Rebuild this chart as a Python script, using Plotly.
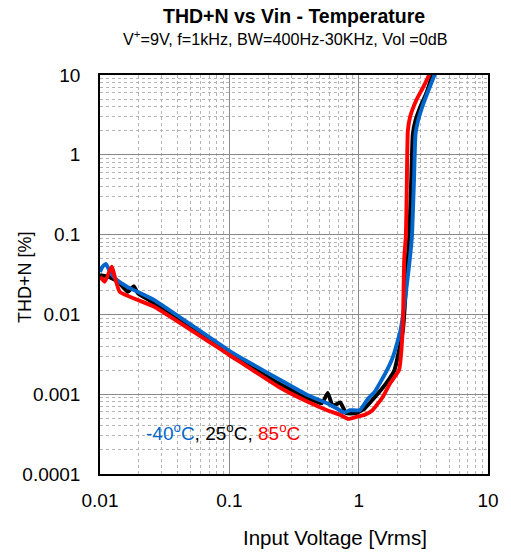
import plotly.graph_objects as go

# -40 C (blue)
x_m40 = [0.01, 0.0105, 0.0111, 0.0121, 0.0135, 0.0164, 0.0263, 0.1, 0.24, 0.40, 0.57, 0.68, 0.77, 0.86,
         1.02, 1.18, 1.33, 1.63, 1.85, 2.11, 2.4, 2.58, 2.68, 2.75, 2.9, 3.1, 3.45, 3.9, 4.0]
y_m40 = [0.034, 0.040, 0.043, 0.033, 0.027, 0.022, 0.0151, 0.0035, 0.00155, 0.00098, 0.00077, 0.00066,
         0.00059, 0.00063, 0.00063, 0.00088, 0.00107, 0.0019, 0.003, 0.0064, 0.03, 0.094, 0.5, 1.8, 2.8,
         4.0, 6.3, 10.5, 12]

# 25 C (black)
x_25 = [0.01, 0.0116, 0.0138, 0.0164, 0.0183, 0.0196, 0.0263, 0.1, 0.24, 0.40, 0.52, 0.577, 0.63, 0.72,
        0.80, 0.96, 1.11, 1.28, 1.63, 1.89, 2.2, 2.35, 2.46, 2.55, 2.62, 2.75, 3.0, 3.35, 3.75, 3.85]
y_25 = [0.031, 0.0297, 0.0257, 0.0192, 0.0225, 0.0185, 0.0138, 0.0033, 0.00137, 0.0009, 0.00077, 0.00104,
        0.00071, 0.00079, 0.00058, 0.00058, 0.00066, 0.00085, 0.00137, 0.0020, 0.0064, 0.03, 0.094, 0.5,
        1.8, 2.7, 4.0, 6.0, 10.5, 12]

# 85 C (red)
x_85 = [0.01, 0.0109, 0.0123, 0.0142, 0.0263, 0.1, 0.24, 0.40, 0.57, 0.72, 0.83, 0.96, 1.11, 1.28, 1.54,
        1.75, 2.05, 2.19, 2.25, 2.32, 2.36, 2.40, 2.5, 2.8, 3.15, 3.55, 3.65]
y_85 = [0.0297, 0.0257, 0.0396, 0.0192, 0.0125, 0.0031, 0.00124, 0.00081, 0.00063, 0.00055, 0.00049,
        0.00052, 0.00055, 0.00063, 0.00093, 0.00137, 0.002, 0.0064, 0.05, 0.1, 0.5, 2.0, 3.0, 4.9, 7.0,
        10.5, 12]

x_ticks = [0.01, 0.1, 1, 10]
x_labels = ["0.01", "0.1", "1", "10"]
y_ticks = [0.0001, 0.001, 0.01, 0.1, 1, 10]
y_labels = ["0.0001", "0.001", "0.01", "0.1", "1", "10"]

FONT = "Liberation Sans, Arial, sans-serif"
BLUE = "#0066CC"

fig = go.Figure()
line_kw = dict(width=3.9, shape="spline", smoothing=0.4)
fig.add_trace(go.Scatter(x=x_25, y=y_25, mode="lines", line=dict(color="black", **line_kw), name="25"))
fig.add_trace(go.Scatter(x=x_m40, y=y_m40, mode="lines", line=dict(color=BLUE, **line_kw), name="-40"))
fig.add_trace(go.Scatter(x=x_85, y=y_85, mode="lines", line=dict(color="#FF0000", **line_kw), name="85"))

axis_common = dict(
    type="log",
    showline=True, linecolor="black", linewidth=1.5, mirror=True,
    showgrid=True, gridcolor="#8a8a8a", gridwidth=1,
    ticks="", zeroline=False,
    tickfont=dict(family=FONT, size=19, color="black"),
    minor=dict(dtick="D1", showgrid=True, gridcolor="#b4b4b4", griddash="dot", gridwidth=1, ticks=""),
)

fig.update_xaxes(range=[-2, 1], tickvals=x_ticks, ticktext=x_labels, ticklabelstandoff=8, **axis_common)
fig.update_yaxes(range=[-4, 1], tickvals=y_ticks, ticktext=y_labels, ticklabelstandoff=14, **axis_common)

# page pixel -> paper coords (plot area spans x 100..493, y 75..474)
def py(p):
    return (474 - p) / 399.0

def px(p):
    return (p - 100) / 393.0

annotations = [
    dict(text="<b>THD+N vs Vin - Temperature</b>", x=px(296), y=py(16), font=dict(size=19.5)),
    dict(text="V<sup>+</sup>=9V, f=1kHz, BW=400Hz-30KHz, Vol =0dB", x=px(288), y=py(38), font=dict(size=16.2)),
    dict(text="Input Voltage [Vrms]", x=px(338), y=py(537), font=dict(size=20.5)),
    dict(text="THD+N [%]", x=px(24), y=py(277), textangle=-90, font=dict(size=18)),
    dict(text="<span style='color:#0066CC'>-40<sup>o</sup>C</span>, 25<sup>o</sup>C, "
              "<span style='color:#FF0000'>85<sup>o</sup>C</span>",
         x=px(225), y=py(432), font=dict(size=19)),
]
for a in annotations:
    a["xref"] = "paper"
    a["yref"] = "paper"
    a["showarrow"] = False
    a["xanchor"] = "center"
    a["yanchor"] = "middle"
    f = a.get("font", {})
    f.setdefault("family", FONT)
    f.setdefault("color", "black")
    a["font"] = f
    fig.add_annotation(**a)

fig.update_layout(
    width=511, height=554,
    margin=dict(l=100, r=18, t=75, b=80),
    paper_bgcolor="white", plot_bgcolor="white",
    showlegend=False,
)

# remove the default 8px body margin so the figure fills the window exactly
fig.write_html("out.html", config={"displayModeBar": False},
               post_script="document.body.style.margin='0';")
